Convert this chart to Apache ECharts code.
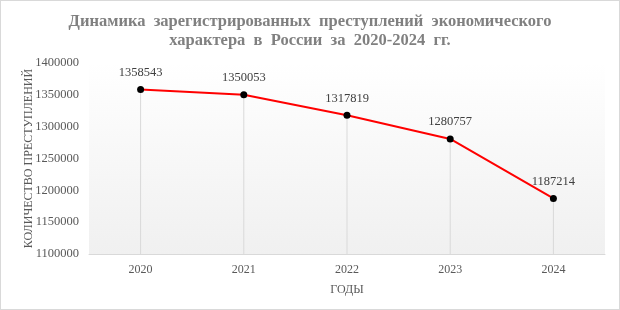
<!DOCTYPE html>
<html><head><meta charset="utf-8">
<script src="https://cdn.jsdelivr.net/npm/echarts@6/dist/echarts.min.js"></script>
<style>html,body{margin:0;padding:0;background:#fff}#c{width:620px;height:310px;box-sizing:border-box;border:1px solid #d9d9d9}</style>
</head><body><div id="c"></div>
<script>
var years = ['2020','2021','2022','2023','2024'];
var crimes = [1358543, 1350053, 1317819, 1280757, 1187214];
var titleText = 'Динамика  зарегистрированных  преступлений  экономического\nхарактера  в  России  за  2020-2024  гг.';
var yName = 'КОЛИЧЕСТВО ПРЕСТУПЛЕНИЙ';
var xName = 'ГОДЫ';
var font = '"Liberation Serif", "Times New Roman", serif';
var chart = echarts.init(document.getElementById('c'));
chart.setOption({
  animation: false,
  textStyle: {fontFamily: font},
  title: {text: titleText, left: 'center', top: 6,
    textStyle: {fontFamily: font, fontSize: 16.5, fontWeight: 'bold', color: '#808080', lineHeight: 19}},
  grid: {left: 88, right: 14, top: 62, bottom: 55, show: true, borderWidth: 0,
    backgroundColor: new echarts.graphic.LinearGradient(0,0,0,1,[{offset:0,color:'#ffffff'},{offset:1,color:'#f0f0f0'}])},
  xAxis: {type: 'category', data: years, boundaryGap: true,
    name: xName, nameLocation: 'middle', nameGap: 30,
    nameTextStyle: {fontFamily: font, fontSize: 12, color: '#595959'},
    axisLine: {lineStyle: {color: '#d9d9d9'}}, axisTick: {show: false},
    axisLabel: {fontFamily: font, fontSize: 12, color: '#595959', margin: 10}},
  yAxis: {type: 'value', min: 1100000, max: 1400000, interval: 50000,
    name: yName, nameLocation: 'middle', nameGap: 54, nameMoveOverlap: false,
    nameTextStyle: {fontFamily: font, fontSize: 12, color: '#595959'},
    axisLine: {show: false}, axisTick: {show: false}, splitLine: {show: false},
    axisLabel: {fontFamily: font, fontSize: 12.5, color: '#595959', margin: 10, formatter: function(v){return String(v);}}},
  series: [
    {type: 'bar', data: crimes, barWidth: 1, itemStyle: {color: '#d9d9d9'}, silent: true, z: 1},
    {type: 'line', data: crimes, symbol: 'circle', symbolSize: 7, z: 3,
     lineStyle: {color: '#ff0000', width: 2}, itemStyle: {color: '#000000'},
     label: {show: true, position: 'top', distance: 7, fontFamily: font, fontSize: 12.5, color: '#404040'}}
  ]
});
</script></body></html>
